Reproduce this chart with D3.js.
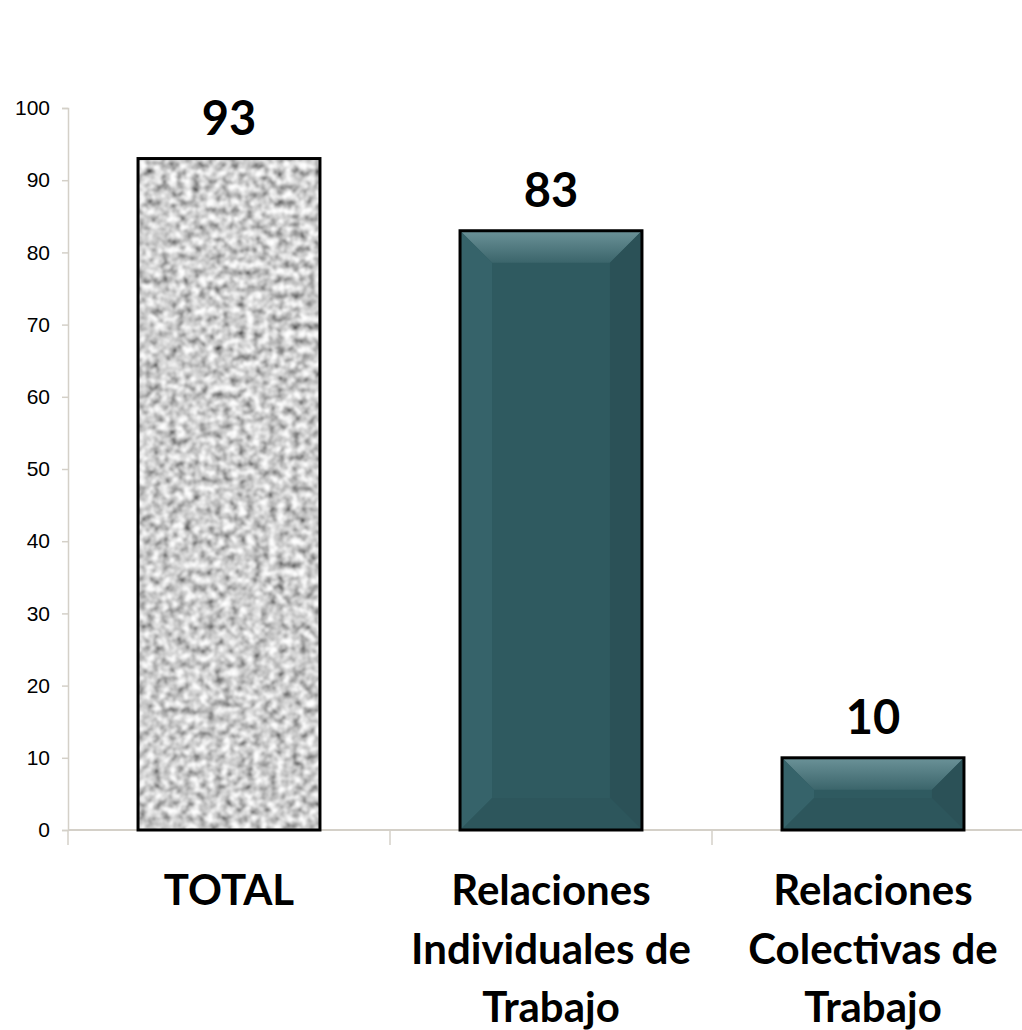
<!DOCTYPE html>
<html>
<head>
<meta charset="utf-8">
<script src="https://cdn.jsdelivr.net/npm/d3@7"></script>
<style>
  body { margin: 0; background: #fff; }
  svg { display: block; }
</style>
</head>
<body>
<div id="chart"></div>
<script>
var categories = ["TOTAL", "Relaciones Individuales de Trabajo", "Relaciones Colectivas de Trabajo"];
var labelLines = [["TOTAL"], ["Relaciones", "Individuales de", "Trabajo"], ["Relaciones", "Colectivas de", "Trabajo"]];
var values = [93, 83, 10];
var yTicks = [0, 10, 20, 30, 40, 50, 60, 70, 80, 90, 100];

var width = 1022, height = 1030;
var margin = {top: 108, right: -12, bottom: 200, left: 68};

var svg = d3.select("#chart").append("svg")
  .attr("width", width)
  .attr("height", height);

var defs = svg.append("defs");

// granite texture for the total bar
var f = defs.append("filter").attr("id", "granite")
  .attr("x", 0).attr("y", 0).attr("width", 1).attr("height", 1);
f.append("feTurbulence").attr("type", "fractalNoise")
  .attr("baseFrequency", 0.13).attr("numOctaves", 3).attr("seed", 11).attr("result", "n");
f.append("feColorMatrix").attr("in", "n").attr("type", "matrix")
  .attr("values", "1.5 0 0 0 -0.13  1.5 0 0 0 -0.13  1.5 0 0 0 -0.13  0 0 0 0 1")
  .attr("result", "g");
f.append("feGaussianBlur").attr("in", "g").attr("stdDeviation", 0.8);

var topGrad = defs.append("linearGradient").attr("id", "topBevel")
  .attr("x1", 0).attr("y1", 0).attr("x2", 0).attr("y2", 1);
topGrad.append("stop").attr("offset", "0%").attr("stop-color", "#6b9298");
topGrad.append("stop").attr("offset", "100%").attr("stop-color", "#3b656b");

var x = d3.scaleBand()
  .domain(categories)
  .range([margin.left, width - margin.right])
  .paddingInner(0.435)
  .paddingOuter(0.2175);

var y = d3.scaleLinear()
  .domain([0, 100])
  .range([height - margin.bottom, margin.top]);

var axisColor = "#d4d0c8";

// y axis
var yAxis = svg.append("g")
  .attr("transform", "translate(" + margin.left + ",0)")
  .call(d3.axisLeft(y).tickValues(yTicks).tickSize(6).tickPadding(12));
yAxis.select(".domain").attr("stroke", axisColor).attr("stroke-width", 1.5);
yAxis.selectAll(".tick line").attr("stroke", axisColor).attr("stroke-width", 1.5);
yAxis.selectAll(".tick text")
  .attr("fill", "#000")
  .attr("font-family", "Liberation Sans, Arial, sans-serif")
  .attr("font-size", 21);

// x axis line with category separators
var x0 = y(0);
svg.append("line")
  .attr("x1", margin.left).attr("x2", width)
  .attr("y1", x0).attr("y2", x0)
  .attr("stroke", axisColor).attr("stroke-width", 2);
var seps = [margin.left].concat(categories.slice(1).map(function(c) { return x(c) - x.step() * x.paddingInner() / 2; }));
svg.selectAll(".sep").data(seps).enter().append("line")
  .attr("class", "sep")
  .attr("x1", function(d) { return d; }).attr("x2", function(d) { return d; })
  .attr("y1", x0).attr("y2", x0 + 15)
  .attr("stroke", axisColor).attr("stroke-width", 1.5);

// bars
var bars = svg.selectAll(".bar").data(values).enter().append("g").attr("class", "bar");

bars.each(function(v, i) {
  var g = d3.select(this);
  var bx = x(categories[i]), bw = x.bandwidth();
  var by = y(v), bh = y(0) - y(v);
  if (i === 0) {
    g.append("rect")
      .attr("x", bx).attr("y", by).attr("width", bw).attr("height", bh)
      .attr("filter", "url(#granite)");
  } else {
    var b = Math.min(32, bh / 2);
    g.append("rect")
      .attr("x", bx).attr("y", by).attr("width", bw).attr("height", bh)
      .attr("fill", "#2f5a60");
    // top bevel
    g.append("polygon")
      .attr("points", [[bx, by], [bx + bw, by], [bx + bw - b, by + b], [bx + b, by + b]].join(" "))
      .attr("fill", "url(#topBevel)");
    // left bevel
    g.append("polygon")
      .attr("points", [[bx, by], [bx + b, by + b], [bx + b, by + bh - b], [bx, by + bh]].join(" "))
      .attr("fill", "#36636a");
    // right bevel
    g.append("polygon")
      .attr("points", [[bx + bw, by], [bx + bw - b, by + b], [bx + bw - b, by + bh - b], [bx + bw, by + bh]].join(" "))
      .attr("fill", "#2b5157");
    // bottom bevel
    g.append("polygon")
      .attr("points", [[bx, by + bh], [bx + b, by + bh - b], [bx + bw - b, by + bh - b], [bx + bw, by + bh]].join(" "))
      .attr("fill", "#2d565c");
  }
  g.append("rect")
    .attr("x", bx).attr("y", by).attr("width", bw).attr("height", bh)
    .attr("fill", "none").attr("stroke", "#000").attr("stroke-width", 3);
});

// value labels
svg.selectAll(".val").data(values).enter().append("text")
  .attr("class", "val")
  .attr("x", function(d, i) { return x(categories[i]) + x.bandwidth() / 2; })
  .attr("y", function(d) { return y(d) - 24; })
  .attr("text-anchor", "middle")
  .style("font-family", "Lato, Open Sans, sans-serif")
  .style("font-weight", "bold")
  .style("font-size", "47px")
  .text(function(d) { return d; });

// category labels
var cl = svg.selectAll(".cat").data(categories).enter().append("text")
  .attr("class", "cat")
  .attr("text-anchor", "middle")
  .style("font-family", "Lato, Open Sans, sans-serif")
  .style("font-weight", "bold")
  .style("font-size", "42px");
cl.each(function(c, i) {
  var t = d3.select(this);
  labelLines[i].forEach(function(line, j) {
    t.append("tspan")
      .attr("x", x(c) + x.bandwidth() / 2)
      .attr("y", 905 + j * 58.5)
      .text(line);
  });
});
</script>
</body>
</html>
